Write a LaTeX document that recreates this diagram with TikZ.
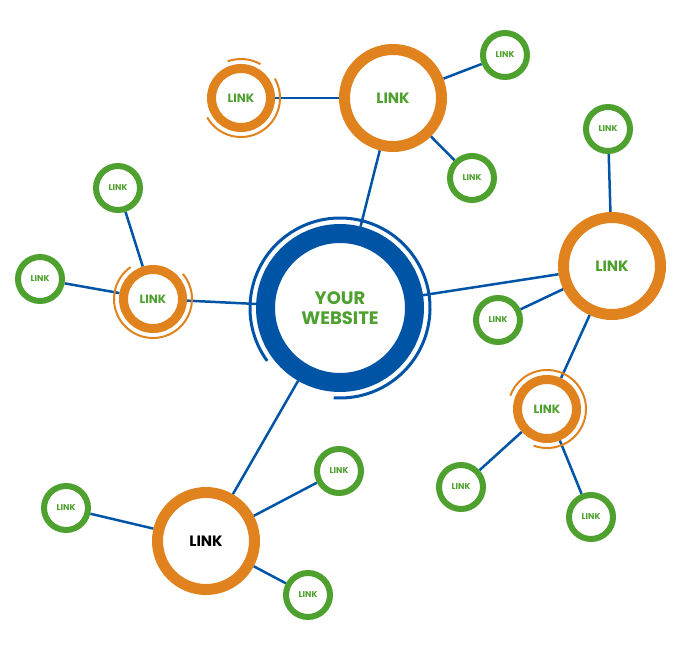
\documentclass[tikz,border=0pt]{standalone}
\usepackage{fontspec}
\setmainfont{Poppins}
\usetikzlibrary{backgrounds}
\definecolor{org}{HTML}{E0821E}
\definecolor{blu}{HTML}{0054A6}
\definecolor{grn}{HTML}{4EA12E}
\begin{document}
\begin{tikzpicture}[x=1pt,y=-1pt,
  hub/.style={circle,draw=blu,line width=19pt,fill=white,minimum size=149pt,inner sep=0,align=center,text=grn,font=\fontsize{18}{22}\selectfont\bfseries},
  bigo/.style={circle,draw=org,line width=11pt,fill=white,minimum size=97pt,inner sep=0,text=grn,font=\fontsize{15}{18}\selectfont\bfseries},
  smallo/.style={circle,draw=org,line width=9pt,fill=white,minimum size=59pt,inner sep=0,text=grn,font=\fontsize{12}{14}\selectfont\bfseries},
  gn/.style={circle,draw=grn,line width=6pt,fill=white,minimum size=44pt,inner sep=0,text=grn,font=\fontsize{8.5}{10}\selectfont\bfseries},
  edge/.style={draw=blu,line width=2.5pt},
  ring/.style={line width=2pt}]
\useasboundingbox (0,0) rectangle (680,650);
\node[hub] (c) at (340,308) {YOUR\\[-2pt]WEBSITE};
\node[bigo] (b1) at (393,98) {LINK};
\node[bigo] (b2) at (612,266) {LINK};
\node[bigo,text=black] (b3) at (206,541) {LINK};
\node[smallo] (s1) at (241,98) {LINK};
\node[smallo] (s2) at (153,299) {LINK};
\node[smallo] (s3) at (547,409) {LINK};
\node[gn] (g1) at (505,55) {LINK};
\node[gn] (g2) at (472,178) {LINK};
\node[gn] (g3) at (118,188) {LINK};
\node[gn] (g4) at (40,279) {LINK};
\node[gn] (g5) at (608,129) {LINK};
\node[gn] (g6) at (498,320) {LINK};
\node[gn] (g7) at (339,471) {LINK};
\node[gn] (g8) at (66,508) {LINK};
\node[gn] (g9) at (308,595) {LINK};
\node[gn] (g10) at (461,487) {LINK};
\node[gn] (g11) at (591,517) {LINK};
% outer arcs
\draw[blu,line width=3pt] (c.center) ++(144:90) arc[start angle=144,end angle=454,radius=90];
\draw[org,ring] (s1.center) ++(150:39) arc[start angle=150,end angle=-30,radius=39];
\draw[org,ring] (s1.center) ++(-60:39) arc[start angle=-60,end angle=-110,radius=39];
\draw[org,ring] (s2.center) ++(235:39) arc[start angle=235,end angle=-40,radius=39];
\draw[org,ring] (s3.center) ++(110:39) arc[start angle=110,end angle=-160,radius=39];
\begin{scope}[on background layer]
\draw[edge] (c) -- (b1); \draw[edge] (c) -- (b2); \draw[edge] (c) -- (s2); \draw[edge] (c) -- (b3);
\draw[edge] (b1) -- (s1); \draw[edge] (b1) -- (g1); \draw[edge] (b1) -- (g2);
\draw[edge] (b2) -- (g5); \draw[edge] (b2) -- (g6); \draw[edge] (b2) -- (s3);
\draw[edge] (s2) -- (g3); \draw[edge] (s2) -- (g4);
\draw[edge] (s3) -- (g10); \draw[edge] (s3) -- (g11);
\draw[edge] (b3) -- (g8); \draw[edge] (b3) -- (g7); \draw[edge] (b3) -- (g9);
\end{scope}
\end{tikzpicture}
\end{document}
